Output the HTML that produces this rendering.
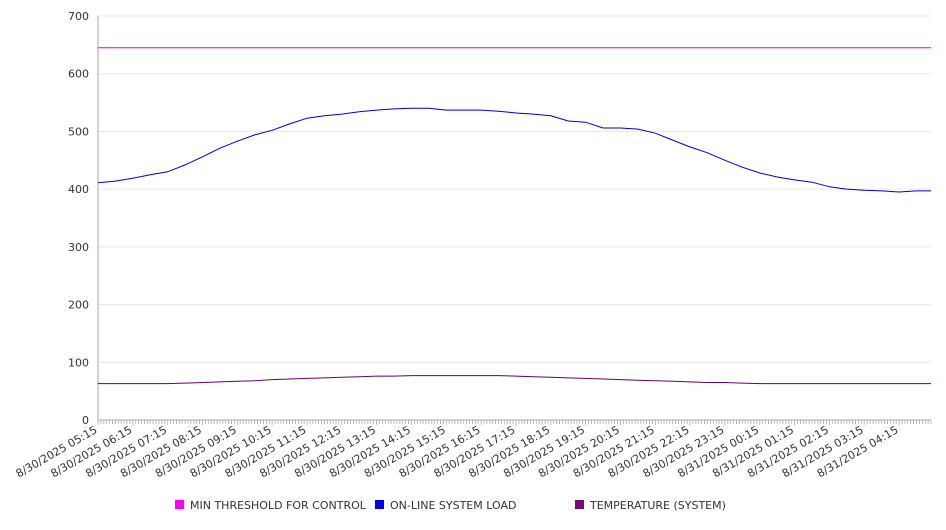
<!DOCTYPE html>
<html><head><meta charset="utf-8"><style>
body{margin:0;background:#fff;width:946px;height:526px;overflow:hidden;font-family:"DejaVu Sans","Liberation Sans",sans-serif}
svg text{font-family:"DejaVu Sans","Liberation Sans",sans-serif;font-size:11px;fill:#333}
</style></head><body>
<svg id="chart" width="946" height="526" xmlns="http://www.w3.org/2000/svg"></svg>
<script>
const yTicks=[0,100,200,300,400,500,600,700];
const xLabels=["8/30/2025 05:15","8/30/2025 06:15","8/30/2025 07:15","8/30/2025 08:15","8/30/2025 09:15","8/30/2025 10:15","8/30/2025 11:15","8/30/2025 12:15","8/30/2025 13:15","8/30/2025 14:15","8/30/2025 15:15","8/30/2025 16:15","8/30/2025 17:15","8/30/2025 18:15","8/30/2025 19:15","8/30/2025 20:15","8/30/2025 21:15","8/30/2025 22:15","8/30/2025 23:15","8/31/2025 00:15","8/31/2025 01:15","8/31/2025 02:15","8/31/2025 03:15","8/31/2025 04:15"];
// values every 30 minutes starting 05:15
const loadValues=[411,414,419,425,430,442,456,471,483,494,502,513,523,527,530,534,537,539,540,540,537,537,537,535,532,530,527,518,516,506,506,504,497,485,473,463,450,438,428,421,416,412,404,400,398,397,395,397,397];
const tempValues=[63,63,63,63,63,64,65,66,67,68,70,71,72,73,74,75,76,76,77,77,77,77,77,77,76,75,74,73,72,71,70,69,68,67,66,65,65,64,63,63,63,63,63,63,63,63,63,63,63];
const thresholdValues=[645,645];
const L=98,R=931,T=16,B=420,yMax=700;
const hourPx=(R-L)/(24-5/60);
const xs=h=>L+h*hourPx;
const ys=v=>B-(v/yMax)*(B-T);
const svg=document.getElementById('chart');
const NS='http://www.w3.org/2000/svg';
function mk(t,a){const e=document.createElementNS(NS,t);for(const k in a)e.setAttribute(k,a[k]);svg.appendChild(e);return e;}
yTicks.forEach(v=>{
 const g=mk('line',{x1:L,x2:R,y1:ys(v),y2:ys(v),stroke:v===0?'#aaa':'#e6e6e6','stroke-width':1});
 
 
 const t=mk('text',{x:L-9,y:ys(v)+4,'text-anchor':'end'});t.textContent=v;
 
 
});
const ax=mk('line',{x1:L,x2:L,y1:T,y2:B,stroke:'#aaa'});


let tk='';
for(let i=0;i<288;i++){const x=xs(i/12);tk+=`M${x.toFixed(1)} ${B}v${i%12===0?5:4}`;}
const tp=mk('path',{d:tk,stroke:'#aaa','stroke-width':0.8,fill:'none'});


xLabels.forEach((s,i)=>{
 const x=xs(i),y=B+12;
 const t=mk('text',{x:x,y:y,'text-anchor':'end',transform:`rotate(-30 ${x} ${y})`});t.textContent=s;
 
 
});
function series(vals,step,color,name){
 const d=vals.map((v,i)=>(i?'L':'M')+xs(Math.min(i*step,24-5/60)).toFixed(1)+' '+ys(v).toFixed(1)).join('');
 const p=mk('path',{d:d,stroke:color,'stroke-width':1,fill:'none'});
 
 
}
series(thresholdValues,24,'#e000e0','threshold-line');
series(loadValues,0.5,'#0000cc','load-line');
series(tempValues,0.5,'#660066','temperature-line');
const leg=[['#ff00ff','MIN THRESHOLD FOR CONTROL',175],['#0000ee','ON-LINE SYSTEM LOAD',375],['#800080','TEMPERATURE (SYSTEM)',575]];
leg.forEach(l=>{
 const r=mk('rect',{x:l[2],y:500,width:9,height:9,fill:l[0]});
 
 
 const t=mk('text',{x:l[2]+15,y:509});t.textContent=l[1];
 
 
});
</script>
</body></html>
